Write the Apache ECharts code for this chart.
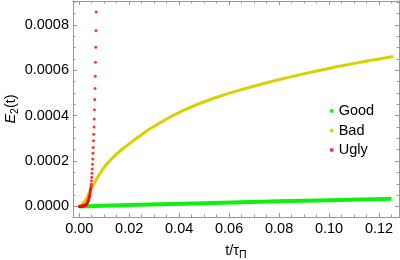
<!DOCTYPE html>
<html>
<head>
<meta charset="utf-8">
<script src="https://cdn.jsdelivr.net/npm/echarts@6/dist/echarts.min.js"></script>
<style>html,body{margin:0;padding:0;background:#fff}#c{width:400px;height:260px}</style>
</head>
<body>
<div id="c"></div>
<script>
// ---- data ----
const seriesNames = ['Good', 'Bad', 'Ugly'];
const goodT = [0, 0.02, 0.05, 0.08, 0.10, 0.125];
const goodE = [0, 0.0000060, 0.0000145, 0.0000225, 0.0000275, 0.0000337];
const badT = [0, 0.001, 0.002, 0.0033, 0.0045, 0.006, 0.0087, 0.0113, 0.0153, 0.0193, 0.0247, 0.029, 0.0417, 0.0551, 0.0684, 0.078, 0.0897, 0.103, 0.1164, 0.1257];
const badE = [0, 0.000008, 0.000020, 0.000044, 0.000072, 0.000102, 0.000153, 0.000190, 0.000234, 0.000270, 0.000314, 0.000347, 0.000423, 0.000481, 0.000525, 0.000553, 0.000584, 0.000615, 0.000643, 0.000661];
const uglyT = [0, 0.0001, 0.0002, 0.0003, 0.0004, 0.0005, 0.0006, 0.0007, 0.0008, 0.0009,
  0.0010, 0.0011, 0.0012, 0.0013, 0.0014, 0.0015, 0.0016, 0.0017, 0.0018, 0.0019,
  0.0020, 0.0021, 0.0022, 0.0023, 0.0024, 0.0025, 0.0026, 0.0027, 0.0028, 0.0029,
  0.0030, 0.0031, 0.0032, 0.0033, 0.0034, 0.0035, 0.0036, 0.0037, 0.0038, 0.0039,
  0.0040, 0.0041, 0.0042, 0.0043, 0.0044, 0.0045, 0.0046, 0.0047, 0.0048, 0.0049,
  0.0050, 0.0051, 0.0052, 0.0053, 0.0054, 0.0055, 0.0056, 0.0057, 0.0058, 0.0059,
  0.0060, 0.0061, 0.0062, 0.0063, 0.0064, 0.0065, 0.0066, 0.0067, 0.0068];
const uglyE = [0, 0, 0, 0, 0, 0, 0.000001, 0.000001, 0.000001, 0.000001,
  0.000001, 0.000001, 0.000001, 0.000002, 0.000002, 0.000002, 0.000002, 0.000003, 0.000003, 0.000003,
  0.000004, 0.000004, 0.000005, 0.000005, 0.000006, 0.000007, 0.000008, 0.000009, 0.000010, 0.000011,
  0.000013, 0.000014, 0.000016, 0.000018, 0.000021, 0.000023, 0.000026, 0.000029, 0.000033, 0.000037,
  0.000041, 0.000046, 0.000051, 0.000057, 0.000064, 0.000071, 0.000079, 0.000088, 0.000098, 0.000113,
  0.000129, 0.000146, 0.000165, 0.000186, 0.000209, 0.000234, 0.000260, 0.000289, 0.000318, 0.000350,
  0.000385, 0.000426, 0.000471, 0.000520, 0.000574, 0.000635, 0.000701, 0.000775, 0.000856];
const xMajor = [0, 0.02, 0.04, 0.06, 0.08, 0.10, 0.12];
const xMinor = [0.005, 0.01, 0.015, 0.025, 0.03, 0.035, 0.045, 0.05, 0.055, 0.065, 0.07, 0.075, 0.085, 0.09, 0.095, 0.105, 0.11, 0.115, 0.125];
const yMajor = [0, 0.0002, 0.0004, 0.0006, 0.0008];
const yMinor = [0.00005, 0.0001, 0.00015, 0.00025, 0.0003, 0.00035, 0.00045, 0.0005, 0.00055, 0.00065, 0.0007, 0.00075, 0.00085, 0.0009];

// ---- chart ----
const X_MIN = -0.0025, X_MAX = 0.128;
const Y_MIN = -0.0000464, Y_MAX = 0.000905;
const FRAME = '#999999';
const FONT = 'Liberation Sans';
const colors = ['#10f010', '#d8d000', '#ff0000'];

function zip(a, b) { return a.map((v, i) => [v, b[i]]); }

function xAx(pos, ticks, len, labels, extra) {
  return Object.assign({
    type: 'value', position: pos, min: X_MIN, max: X_MAX,
    axisLine: { show: true, onZero: false, lineStyle: { color: FRAME, width: 1 } },
    axisTick: { show: true, inside: true, length: len, customValues: ticks, lineStyle: { color: FRAME } },
    axisLabel: labels ? { show: true, customValues: ticks, margin: 4, color: '#000', fontFamily: FONT, fontSize: 14.5,
      formatter: v => v.toFixed(2) } : { show: false },
    splitLine: { show: false }
  }, extra || {});
}
function yAx(pos, ticks, len, labels, extra) {
  return Object.assign({
    type: 'value', position: pos, min: Y_MIN, max: Y_MAX,
    axisLine: { show: true, onZero: false, lineStyle: { color: FRAME, width: 1 } },
    axisTick: { show: true, inside: true, length: len, customValues: ticks, lineStyle: { color: FRAME } },
    axisLabel: labels ? { show: true, customValues: ticks, margin: 4, color: '#000', fontFamily: FONT, fontSize: 14.5,
      formatter: v => v.toFixed(4) } : { show: false },
    splitLine: { show: false }
  }, extra || {});
}

const chart = echarts.init(document.getElementById('c'), null, { renderer: 'canvas' });
chart.setOption({
  animation: false,
  backgroundColor: '#fff',
  grid: { left: 73, right: 1, top: 1, bottom: 43, containLabel: false, outerBoundsMode: 'none' },
  xAxis: [
    xAx('bottom', xMajor, 4, true, {
      name: '{n|t/τ}{s|Π}', nameLocation: 'middle', nameGap: 24, nameMoveOverlap: false,
      nameTextStyle: { color: '#000', fontFamily: FONT, rich: {
        n: { fontSize: 14.5, fontFamily: FONT, color: '#000', lineHeight: 20, verticalAlign: 'middle' },
        s: { fontSize: 10.5, fontFamily: FONT, color: '#000', lineHeight: 20, verticalAlign: 'bottom' } } }
    }),
    xAx('bottom', xMinor, 2.5, false),
    xAx('top', xMajor, 4, false),
    xAx('top', xMinor, 2.5, false)
  ],
  yAxis: [
    yAx('left', yMajor, 4, true, {
      name: '{e|E}{s|2}{n|(t)}', nameLocation: 'middle', nameRotate: 90, nameGap: 52, nameMoveOverlap: false,
      nameTextStyle: { color: '#000', fontFamily: FONT, rich: {
        e: { fontSize: 14.5, fontFamily: FONT, fontStyle: 'italic', color: '#000', lineHeight: 20, verticalAlign: 'middle' },
        s: { fontSize: 10.5, fontFamily: FONT, color: '#000', lineHeight: 20, verticalAlign: 'bottom' },
        n: { fontSize: 14.5, fontFamily: FONT, color: '#000', lineHeight: 20, verticalAlign: 'middle' } } }
    }),
    yAx('left', yMinor, 2.5, false),
    yAx('right', yMajor, 4, false),
    yAx('right', yMinor, 2.5, false)
  ],
  legend: {
    orient: 'vertical', left: 324.7, top: 98, icon: 'circle',
    itemWidth: 4, itemHeight: 4, itemGap: 3.5,
    textStyle: { fontFamily: FONT, fontSize: 14.5, color: '#000', lineHeight: 16 },
    data: seriesNames
  },
  series: [
    { name: seriesNames[0], type: 'line', data: zip(goodT, goodE), showSymbol: false, symbol: 'circle',
      color: colors[0], lineStyle: { width: 4, color: colors[0] }, xAxisIndex: 0, yAxisIndex: 0, z: 2 },
    { name: seriesNames[1], type: 'line', data: zip(badT, badE), showSymbol: false, symbol: 'circle',
      smooth: 0.5,
      color: colors[1], lineStyle: { width: 3, color: colors[1] }, xAxisIndex: 0, yAxisIndex: 0, z: 3 },
    { name: seriesNames[2], type: 'scatter', data: zip(uglyT, uglyE), symbol: 'circle', symbolSize: 3,
      color: colors[2], itemStyle: { color: colors[2] }, xAxisIndex: 0, yAxisIndex: 0, z: 4 }
  ]
});
</script>
</body>
</html>
